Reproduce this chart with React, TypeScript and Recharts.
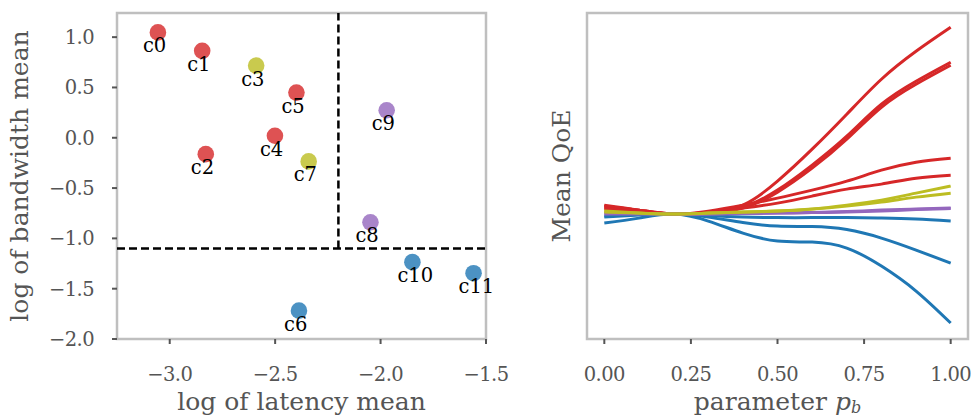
import React from 'react';
import {
  ScatterChart,
  Scatter,
  XAxis,
  YAxis,
  ReferenceLine,
  ReferenceArea,
  LineChart,
  Line,
  Label,
} from 'recharts';

// ---------- Left panel data ----------
const clusterNames = ['c0', 'c1', 'c2', 'c3', 'c4', 'c5', 'c6', 'c7', 'c8', 'c9', 'c10', 'c11'];
const latencyLogMean = [-3.056, -2.846, -2.829, -2.59, -2.501, -2.399, -2.387, -2.341, -2.048, -1.971, -1.849, -1.559];
const bandwidthLogMean = [1.047, 0.864, -0.163, 0.718, 0.02, 0.449, -1.718, -0.235, -0.84, 0.273, -1.236, -1.346];
const clusterGroup = ['red', 'red', 'red', 'yellow', 'red', 'red', 'blue', 'yellow', 'purple', 'purple', 'blue', 'blue'];
const latencyThreshold = -2.2;
const bandwidthThreshold = -1.1;
const latencyTicks = [-3.0, -2.5, -2.0, -1.5];
const bandwidthTicks = [-2.0, -1.5, -1.0, -0.5, 0.0, 0.5, 1.0];

// ---------- Right panel data ----------
const pbValues = [0, 0.1, 0.2, 0.3, 0.4, 0.5, 0.6, 0.7, 0.8, 0.9, 1.0];
const pbTicks = [0, 0.25, 0.5, 0.75, 1.0];
const qoe_c0 = [0.8, 0.4, 0, 0.15, 0.9, 3.3, 6.5, 10.0, 13.5, 16.3, 18.7];
const qoe_c1 = [0.8, 0.4, 0, 0.15, 0.7, 2.4, 4.9, 7.8, 11.0, 13.3, 15.2];
const qoe_c5 = [0.6, 0.3, 0, 0.15, 0.6, 2.2, 4.6, 7.5, 10.7, 13.0, 14.9];
const qoe_c4 = [0.9, 0.4, 0, 0.3, 0.9, 1.6, 2.4, 3.3, 4.4, 5.2, 5.6];
const qoe_c2 = [0.5, 0.3, 0, 0.2, 0.6, 1.1, 1.8, 2.5, 3.0, 3.6, 3.9];
const qoe_c3 = [0.3, 0.1, 0, 0.1, 0.2, 0.3, 0.5, 0.9, 1.4, 2.1, 2.8];
const qoe_c7 = [0.2, 0.1, 0, 0.1, 0.2, 0.3, 0.5, 0.8, 1.2, 1.7, 2.1];
const qoe_c9 = [0.1, 0.05, 0, 0, 0.05, 0.1, 0.15, 0.25, 0.4, 0.5, 0.6];
const qoe_c8 = [0.0, 0.0, 0, 0, 0.05, 0.1, 0.15, 0.2, 0.3, 0.45, 0.55];
const qoe_c11 = [-0.2, -0.05, 0, -0.15, -0.3, -0.35, -0.35, -0.35, -0.4, -0.5, -0.7];
const qoe_c10 = [-0.3, -0.1, 0, -0.3, -0.85, -1.2, -1.25, -1.55, -2.4, -3.6, -4.9];
const qoe_c6 = [-0.9, -0.4, 0, -0.7, -1.9, -2.7, -2.8, -3.4, -5.2, -7.7, -10.9];

const groupColors: Record<string, string> = {
  red: '#d62728',
  yellow: '#bcbd22',
  purple: '#9467bd',
  blue: '#1f77b4',
};

const FONT = 'DejaVu Serif';
const GREY = '#555555';
const FRAME = '#bfbfbf';

const scatterData = clusterNames.map((name, i) => ({
  name,
  x: latencyLogMean[i],
  y: bandwidthLogMean[i],
  color: groupColors[clusterGroup[i]],
}));

const seriesList: { key: string; values: number[]; group: string }[] = [
  { key: 'c6', values: qoe_c6, group: 'blue' },
  { key: 'c10', values: qoe_c10, group: 'blue' },
  { key: 'c11', values: qoe_c11, group: 'blue' },
  { key: 'c0', values: qoe_c0, group: 'red' },
  { key: 'c1', values: qoe_c1, group: 'red' },
  { key: 'c5', values: qoe_c5, group: 'red' },
  { key: 'c4', values: qoe_c4, group: 'red' },
  { key: 'c2', values: qoe_c2, group: 'red' },
  { key: 'c9', values: qoe_c9, group: 'purple' },
  { key: 'c8', values: qoe_c8, group: 'purple' },
  { key: 'c3', values: qoe_c3, group: 'yellow' },
  { key: 'c7', values: qoe_c7, group: 'yellow' },
];

const lineData = pbValues.map((p, i) => {
  const row: Record<string, number> = { p };
  seriesList.forEach((s) => {
    row[s.key] = s.values[i];
  });
  return row;
});

const fmt1 = (v: number) => v.toFixed(1).replace('-', '\u2212');
const fmt2 = (v: number) => v.toFixed(2).replace('-', '\u2212');

const tickStyle = { fill: GREY, fontSize: 19.5, fontFamily: FONT, letterSpacing: -0.6 };

const ClusterDot = (props: any) => {
  const { cx, cy, payload } = props;
  return (
    <g>
      <circle cx={cx} cy={cy} r={8.3} fill={payload.color} fillOpacity={0.8} />
      <text x={cx - 15} y={cy + 20} fontFamily={FONT} fontSize={19.5} fill="#000">
        {payload.name}
      </text>
    </g>
  );
};

const XLabel = (text: React.ReactNode) => (props: any) => {
  const vb = props.viewBox || {};
  return (
    <text x={vb.x + vb.width / 2} y={vb.y + 71} textAnchor="middle" fontFamily={FONT} fontSize={25} fill={GREY}>
      {text}
    </text>
  );
};

const YLabel = (text: string, offset: number) => (props: any) => {
  const vb = props.viewBox || {};
  const x = vb.x + offset;
  const y = vb.y + vb.height / 2;
  return (
    <text x={x} y={y} transform={`rotate(-90 ${x} ${y})`} textAnchor="middle" fontFamily={FONT} fontSize={25} fill={GREY}>
      {text}
    </text>
  );
};

export default function App() {
  return (
    <div style={{ position: 'absolute', left: 0, top: 0, width: 972, height: 418, background: '#fff', overflow: 'hidden' }}>
      <div style={{ position: 'absolute', left: 0, top: 0 }}>
        <ScatterChart width={540} height={418} margin={{ top: 13, right: 54, bottom: 19, left: 37 }}>
          <XAxis
            type="number"
            dataKey="x"
            domain={[-3.25, -1.5]}
            ticks={latencyTicks}
            tickFormatter={fmt1}
            axisLine={false}
            tickLine={{ stroke: GREY, strokeWidth: 2 }}
            tickSize={5}
            tickMargin={23}
            height={60}
            tick={tickStyle}
            interval={0}
          >
            <Label content={XLabel('log of latency mean')} />
          </XAxis>
          <YAxis
            type="number"
            dataKey="y"
            domain={[-2.0, 1.24]}
            ticks={bandwidthTicks}
            tickFormatter={fmt1}
            axisLine={false}
            tickLine={{ stroke: GREY, strokeWidth: 2 }}
            tickSize={5}
            tickMargin={18}
            width={80}
            tick={tickStyle}
            interval={0}
          >
            <Label content={YLabel('log of bandwidth mean', -9)} />
          </YAxis>
          <ReferenceArea x1={-3.25} x2={-1.5} y1={-2.0} y2={1.24} fill="none" stroke={FRAME} strokeWidth={2.5} />
          <ReferenceLine
            segment={[
              { x: latencyThreshold, y: bandwidthThreshold },
              { x: latencyThreshold, y: 1.24 },
            ]}
            stroke="#000"
            strokeWidth={2.5}
            strokeDasharray="8 4"
          />
          <ReferenceLine y={bandwidthThreshold} stroke="#000" strokeWidth={2.5} strokeDasharray="8 4" />
          <Scatter data={scatterData} shape={ClusterDot} isAnimationActive={false} />
        </ScatterChart>
      </div>
      <div style={{ position: 'absolute', left: 540, top: 0 }}>
        <LineChart width={432} height={418} data={lineData} margin={{ top: 13, right: 4, bottom: 19, left: 0 }}>
          <XAxis
            type="number"
            dataKey="p"
            domain={[-0.05, 1.05]}
            ticks={pbTicks}
            tickFormatter={fmt2}
            axisLine={false}
            tickLine={{ stroke: GREY, strokeWidth: 2 }}
            tickSize={5}
            tickMargin={23}
            height={60}
            tick={tickStyle}
            interval={0}
          >
            <Label
              content={XLabel(
                <>
                  <tspan>parameter </tspan>
                  <tspan fontStyle="italic">p</tspan>
                  <tspan fontStyle="italic" fontSize={16} dy={3}>
                    b
                  </tspan>
                </>
              )}
            />
          </XAxis>
          <YAxis
            type="number"
            domain={[-12.5, 20.13]}
            tick={false}
            tickLine={false}
            axisLine={false}
            width={47}
          >
            <Label content={YLabel('Mean QoE', 30)} />
          </YAxis>
          <ReferenceArea x1={-0.05} x2={1.05} y1={-12.5} y2={20.13} fill="none" stroke={FRAME} strokeWidth={2.5} />
          {seriesList.map((s) => (
            <Line
              key={s.key}
              type="natural"
              dataKey={s.key}
              stroke={groupColors[s.group]}
              strokeWidth={3}
              dot={false}
              isAnimationActive={false}
            />
          ))}
        </LineChart>
      </div>
    </div>
  );
}
